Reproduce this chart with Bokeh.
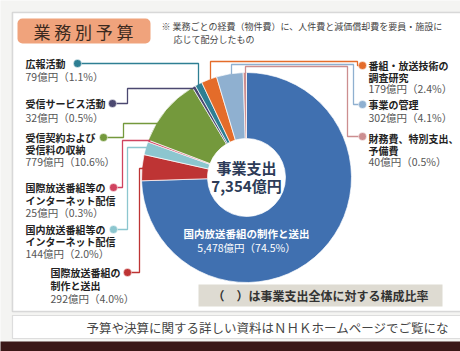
import math
from bokeh.plotting import figure
from bokeh.models import Range1d, BoxAnnotation
from bokeh.core.properties import value
from bokeh.embed import file_html
from bokeh.resources import INLINE

# ---------------- data ----------------
categories = [
    "国内放送番組の制作と送出",
    "国際放送番組の制作と送出",
    "国内放送番組等のインターネット配信",
    "国際放送番組等のインターネット配信",
    "受信契約および受信料の収納",
    "受信サービス活動",
    "広報活動",
    "番組・放送技術の調査研究",
    "事業の管理",
    "財務費、特別支出、予備費",
]
amounts = [5478, 292, 144, 25, 779, 32, 79, 179, 302, 40]          # 億円
shares = [74.5, 4.0, 2.0, 0.3, 10.6, 0.5, 1.1, 2.4, 4.1, 0.5]      # %
total_amount = 7354
label_lines = [
    ["国内放送番組の制作と送出"],
    ["国際放送番組の", "制作と送出"],
    ["国内放送番組等の", "インターネット配信"],
    ["国際放送番組等の", "インターネット配信"],
    ["受信契約および", "受信料の収納"],
    ["受信サービス活動"],
    ["広報活動"],
    ["番組・放送技術の", "調査研究"],
    ["事業の管理"],
    ["財務費、特別支出、", "予備費"],
]

# ---------------- styles / layout ----------------
colors = ["#4070B0", "#BE3434", "#8CC6CF", "#D0435F", "#74993C",
          "#4B4870", "#2E7F93", "#E46C2A", "#8FB0D0", "#CC8E90"]
FONT = value("Noto Sans CJK JP")
W, H = 460, 351
CX, CY, R_OUT, R_IN = 246, 177, 105, 39


def Y(v):
    return H - v


p = figure(width=W, height=H, x_range=Range1d(0, W), y_range=Range1d(0, H),
           output_backend="svg", toolbar_location=None, min_border=0,
           background_fill_color="#f4f4f2", border_fill_color="#f4f4f2")
p.axis.visible = False
p.grid.visible = False
p.outline_line_color = None

# boxes
def box(l, r, t, b, fill, line=None, lw=1.0, radius=0):
    ba = BoxAnnotation(left=l, right=r, top=Y(t), bottom=Y(b), fill_color=fill,
                       fill_alpha=1.0, line_color=line, line_width=lw,
                       border_radius=radius, level="underlay")
    p.add_layout(ba)

box(12, 480, 12, 311, "#ffffff", "#8c8c8c", 1.6)
box(17, 150, 18, 43, "#F0A37C", None, 0, 5)
box(198, 442, 284, 306, "#DEDBD2", None, 0)
box(12, 480, 315, 338, "#ffffff", "#9a9a9a", 1.2)
box(-5, 480, 341, 360, "#3a1717", None, 0)

# title & note
p.text(x=[83], y=[Y(31)], text=["業 務 別 予 算"], text_font=FONT,
       text_font_size="17px", text_color="#3b2a20", text_align="center",
       text_baseline="middle")
p.text(x=[161, 173], y=[Y(26), Y(39)],
       text=["※ 業務ごとの経費（物件費）に、人件費と減価償却費を要員・施設に",
             "応じて配分したもの"],
       text_font=FONT, text_font_size="9px", text_color="#444444",
       text_align="left", text_baseline="middle")

# ---------------- donut ----------------
starts, ends = [], []
cum = 0.0
for s in shares:
    a_end = math.pi / 2 - 2 * math.pi * cum / 100.0
    cum += s
    a_start = math.pi / 2 - 2 * math.pi * cum / 100.0
    starts.append(a_start)
    ends.append(a_end)

p.annular_wedge(x=CX, y=Y(CY), inner_radius=R_IN, outer_radius=R_OUT,
                start_angle=starts, end_angle=ends, color=colors,
                line_color="white", line_width=0.7, direction="anticlock")

p.text(x=[CX, CX], y=[Y(167), Y(185)],
       text=["事業支出", f"{total_amount:,}億円"], text_font=FONT,
       text_font_size="15px", text_font_style="bold", text_color="#2d3b57",
       text_align="center", text_baseline="middle")
p.text(x=[CX], y=[Y(233)], text=[label_lines[0][0]], text_font=FONT,
       text_font_size="10.5px", text_font_style="bold", text_color="white",
       text_align="center", text_baseline="middle")
p.text(x=[CX], y=[Y(247)], text=[f"{amounts[0]:,}億円（{shares[0]}%）"],
       text_font=FONT, text_font_size="10.5px", text_color="white",
       text_align="center", text_baseline="middle")

# ---------------- callouts ----------------
# index: (label x, first line y, line step, dot x, dot y, connector path)
callouts = {
    6: (25, 63, 13, 77, 63, [(77, 63), (198, 63), (198, 86)]),
    5: (25, 103, 14, 112, 103, [(112, 103), (127, 103), (127, 88), (195, 88)]),
    4: (25, 137, 12, 103, 137, [(103, 137), (123, 137), (123, 123), (158, 123)]),
    3: (25, 187, 12.5, 113, 187, [(113, 187), (122, 187), (122, 140), (150, 140)]),
    2: (25, 229, 12, 113, 229, [(113, 229), (127, 229), (127, 147), (147, 147)]),
    1: (50, 272, 13, 127, 272, [(127, 272), (139, 272), (139, 168), (144, 168)]),
    7: (368, 65, 11.5, 362, 65, [(362, 65), (357, 65), (357, 61), (210, 61), (210, 79)]),
    8: (368, 104, 13, 362, 104, [(362, 104), (353, 104), (353, 64), (231, 64), (231, 74)]),
    9: (368, 138, 11.5, 362, 136, [(362, 136), (347, 136), (347, 66), (245, 66), (245, 73)]),
}

for i, (lx, ly, step, dx, dy, path) in callouts.items():
    p.line(x=[q[0] for q in path], y=[Y(q[1]) for q in path],
           line_color=colors[i], line_width=1.3)
    p.scatter(x=[dx], y=[Y(dy)], size=8, color=colors[i], line_color="white",
              line_width=0.5)
    names = label_lines[i]
    ys = [Y(ly + k * step) for k in range(len(names))]
    p.text(x=[lx] * len(names), y=ys, text=names, text_font=FONT,
           text_font_size="10px", text_font_style="bold", text_color="#222222",
           text_align="left", text_baseline="middle")
    p.text(x=[lx], y=[Y(ly + len(names) * step)],
           text=[f"{amounts[i]:,}億円（{shares[i]}%）"], text_font=FONT,
           text_font_size="10.5px", text_color="#555555", text_align="left",
           text_baseline="middle")

# footnotes
p.text(x=[320], y=[Y(295)], text=["（　）は事業支出全体に対する構成比率"],
       text_font=FONT, text_font_size="12px", text_font_style="bold",
       text_color="#333333", text_align="center", text_baseline="middle")
p.text(x=[86], y=[Y(327)],
       text=["予算や決算に関する詳しい資料はＮＨＫホームページでご覧にな"],
       text_font=FONT, text_font_size="12.5px", text_color="#444444",
       text_align="left", text_baseline="middle")

open("out.html", "w").write(file_html(p, INLINE))
